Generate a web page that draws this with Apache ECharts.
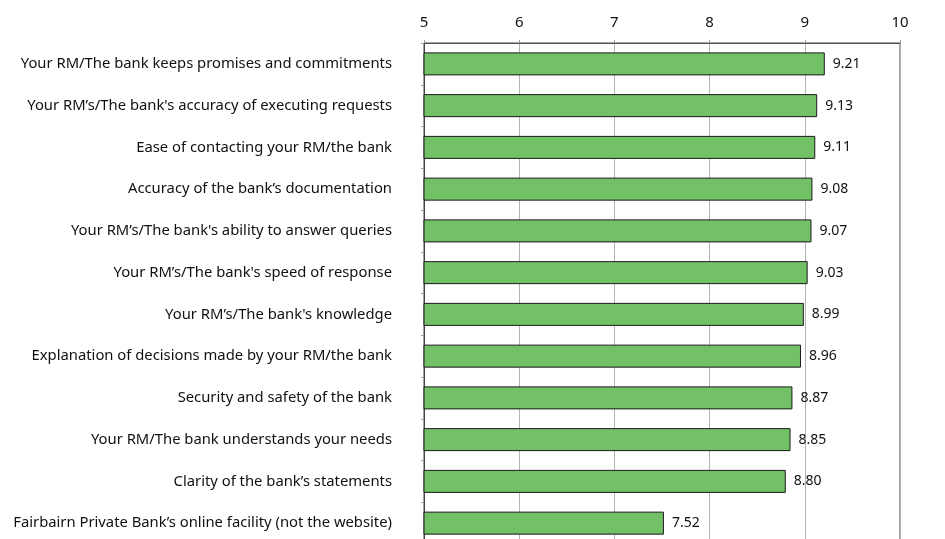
<!DOCTYPE html>
<html><head><meta charset="utf-8">
<script src="https://cdn.jsdelivr.net/npm/echarts@6/dist/echarts.min.js"></script>
<style>html,body{margin:0;padding:0;background:#fff}#c{width:945px;height:539px}</style>
</head><body><div id="c"></div>
<script>
const categories = [
  "Your RM/The bank keeps promises and commitments",
  "Your RM’s/The bank's accuracy of executing requests",
  "Ease of contacting your RM/the bank",
  "Accuracy of the bank’s documentation",
  "Your RM’s/The bank's ability to answer queries",
  "Your RM’s/The bank's speed of response",
  "Your RM’s/The bank's knowledge",
  "Explanation of decisions made by your RM/the bank",
  "Security and safety of the bank",
  "Your RM/The bank understands your needs",
  "Clarity of the bank’s statements",
  "Fairbairn Private Bank’s online facility (not the website)"
];
const values = [9.21, 9.13, 9.11, 9.08, 9.07, 9.03, 8.99, 8.96, 8.87, 8.85, 8.80, 7.52];
const xMin = 5, xMax = 10, xStep = 1;

const chart = echarts.init(document.getElementById('c'), null, {renderer: 'canvas'});
const font = 'Noto Sans';
chart.setOption({
  animation: false,
  grid: {left: 424, width: 476, top: 43, height: 501, outerBoundsMode: 'none', show: true, borderColor: '#444', borderWidth: 1},
  xAxis: {
    type: 'value', position: 'top', min: xMin, max: xMax, interval: xStep,
    axisLine: {show: true, lineStyle: {color: '#555'}},
    axisTick: {show: true, length: 3, lineStyle: {color: '#999'}},
    axisLabel: {color: '#111', fontFamily: font, fontSize: 15, margin: 13},
    splitLine: {show: true, lineStyle: {color: '#b4b4b4'}}
  },
  yAxis: {
    type: 'category', data: categories, inverse: true,
    axisLine: {show: true, lineStyle: {color: '#444'}},
    axisTick: {show: true, length: 3, lineStyle: {color: '#999'}},
    axisLabel: {color: '#111', fontFamily: font, fontSize: 14.8, margin: 32}
  },
  series: [{
    type: 'bar', data: values, barWidth: 23,
    itemStyle: {color: '#73c167', borderColor: '#1a1a1a', borderWidth: 1},
    label: {show: true, position: 'right', distance: 8, color: '#111', fontFamily: font, fontSize: 14,
      formatter: p => p.value.toFixed(2)}
  }]
});
</script></body></html>
